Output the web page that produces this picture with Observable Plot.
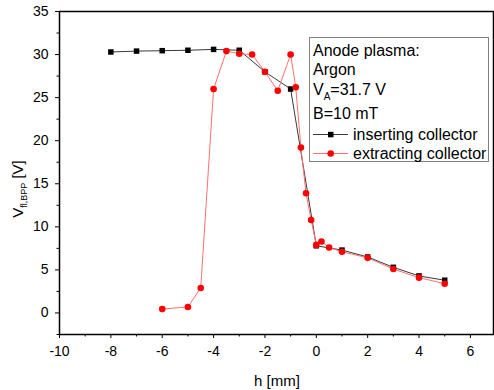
<!DOCTYPE html>
<html>
<head>
<meta charset="utf-8">
<script src="https://cdn.jsdelivr.net/npm/d3@7"></script>
<script src="https://cdn.jsdelivr.net/npm/@observablehq/plot@0.6"></script>
<style>
  html, body { margin: 0; padding: 0; background: white; }
  #chart svg { display: block; }
</style>
</head>
<body>
<div id="chart"></div>
<script>
// inserting collector
const hInsert = [-8, -7, -6, -5, -4, -3, -2, -1, 0, 1, 2, 3, 4, 5];
const vInsert = [30.3, 30.4, 30.45, 30.5, 30.6, 30.5, 28.0, 26.0, 7.8, 7.3, 6.5, 5.3, 4.3, 3.8];
// extracting collector
const hExtract = [-6, -5, -4.5, -4, -3.5, -3, -2.5, -2, -1.5, -1, -0.8, -0.6, -0.4, -0.2, 0, 0.2, 0.5, 1, 2, 3, 4, 5];
const vExtract = [0.45, 0.7, 2.9, 26.0, 30.4, 30.1, 30.0, 28.0, 25.8, 30.0, 26.2, 19.2, 13.9, 10.8, 7.9, 8.3, 7.6, 7.1, 6.4, 5.1, 4.1, 3.4];

const xMajor = [-10, -8, -6, -4, -2, 0, 2, 4, 6];
const xMinor = [-9, -7, -5, -3, -1, 1, 3, 5];
const yMajor = [0, 5, 10, 15, 20, 25, 30, 35];
const yMinor = [-2.5, 2.5, 7.5, 12.5, 17.5, 22.5, 27.5, 32.5];

const legendLines = ["Anode plasma:", "Argon"];
const seriesNames = ["inserting collector", "extracting collector"];

const insert = hInsert.map((h, i) => ({h, v: vInsert[i]}));
const extract = hExtract.map((h, i) => ({h, v: vExtract[i]}));

const FONT = "'Liberation Sans', Arial, sans-serif";

const chart = Plot.plot({
  width: 494,
  height: 390,
  marginLeft: 59,
  marginTop: 11,
  marginRight: 1,
  marginBottom: 56,
  x: {domain: [-10, 6.9]},
  y: {domain: [-2.5, 35]},
  style: {fontFamily: FONT, fontSize: "14px", color: "black", background: "white"},
  marks: [
    Plot.axisX({ticks: xMajor, tickSize: 4, tickPadding: 8, label: null, fontSize: 14, tickFormat: d => String(d)}),
    Plot.axisX({ticks: xMinor, tickSize: 2.5, text: null, label: null}),
    Plot.axisY({ticks: yMajor, tickSize: 4, tickPadding: 7, label: null, fontSize: 14, tickFormat: d => String(d)}),
    Plot.axisY({ticks: yMinor, tickSize: 2.5, text: null, label: null}),
    Plot.line(insert, {x: "h", y: "v", stroke: "#3a3a3a", strokeWidth: 1}),
    Plot.dot(insert, {x: "h", y: "v", symbol: "square", fill: "black", r: 3.1}),
    Plot.line(extract, {x: "h", y: "v", stroke: "#ff6f6f", strokeWidth: 1}),
    Plot.dot(extract, {x: "h", y: "v", fill: "red", r: 3.3}),
    Plot.frame({stroke: "black", strokeWidth: 1.5})
  ]
});

document.getElementById("chart").appendChild(chart);

const svg = d3.select(chart);

// x label
svg.append("text")
  .attr("x", 277).attr("y", 386)
  .attr("text-anchor", "middle")
  .attr("font-family", FONT).attr("font-size", 15)
  .attr("fill", "black")
  .text("h [mm]");

// y label with subscript
const yl = svg.append("text")
  .attr("transform", "translate(23,189) rotate(-90)")
  .attr("text-anchor", "middle")
  .attr("font-family", FONT).attr("font-size", 15)
  .attr("fill", "black");
yl.append("tspan").text("V");
yl.append("tspan").attr("font-size", 9).attr("dy", 4).text("fl,BPP");
yl.append("tspan").attr("dy", -4).text(" [V]");

// legend box
const lg = svg.append("g")
  .attr("font-family", FONT).attr("font-size", 16).attr("fill", "black")
  .attr("text-anchor", "start");
lg.append("rect")
  .attr("x", 309.5).attr("y", 37.5).attr("width", 179).attr("height", 124)
  .attr("fill", "white").attr("stroke", "#808080").attr("stroke-width", 1);
lg.append("text").attr("x", 313).attr("y", 56).text(legendLines[0]);
lg.append("text").attr("x", 313).attr("y", 75).text(legendLines[1]);
const va = lg.append("text").attr("x", 313).attr("y", 95);
va.append("tspan").text("V");
va.append("tspan").attr("font-size", 10).attr("dy", 5).text("A");
va.append("tspan").attr("dy", -5).text("=31.7 V");
lg.append("text").attr("x", 313).attr("y", 119).text("B=10 mT");

// series entries
lg.append("line").attr("x1", 313).attr("x2", 348).attr("y1", 134.5).attr("y2", 134.5)
  .attr("stroke", "#3a3a3a").attr("stroke-width", 1);
lg.append("rect").attr("x", 328).attr("y", 131.8).attr("width", 5.5).attr("height", 5.5).attr("fill", "black");
lg.append("text").attr("x", 353).attr("y", 140).text(seriesNames[0]);

lg.append("line").attr("x1", 313).attr("x2", 348).attr("y1", 153.5).attr("y2", 153.5)
  .attr("stroke", "#ff6f6f").attr("stroke-width", 1);
lg.append("circle").attr("cx", 330.7).attr("cy", 153.5).attr("r", 3.3).attr("fill", "red");
lg.append("text").attr("x", 353).attr("y", 159).text(seriesNames[1]);
</script>
</body>
</html>
